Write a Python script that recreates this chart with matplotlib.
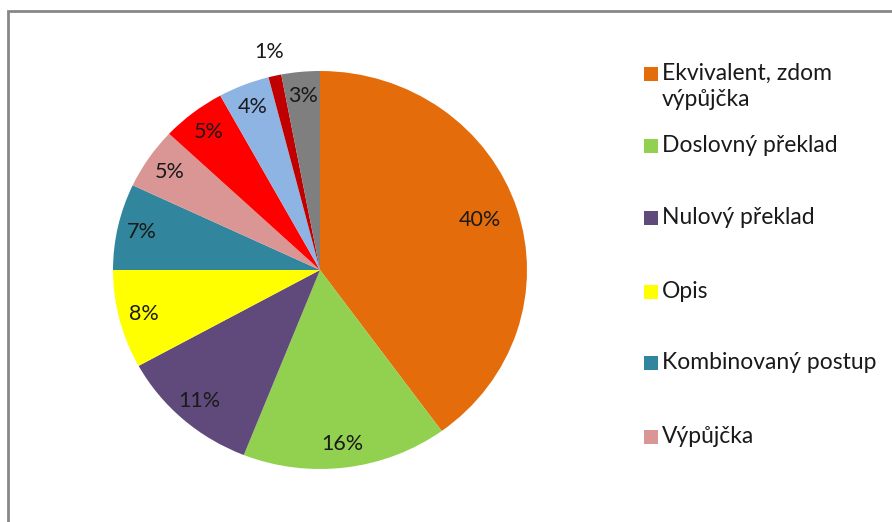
import numpy as np
import matplotlib
matplotlib.use("Agg")
import matplotlib.pyplot as plt
from matplotlib.patches import Rectangle

plt.rcParams['font.family'] = ['Lato', 'DejaVu Sans']

# shares in percent, clockwise from 12 o'clock
categories = ["Ekvivalent, zdom\nvýpůjčka", "Doslovný překlad", "Nulový překlad", "Opis",
              "Kombinovaný postup", "Výpůjčka", "Red", "LightBlue", "DarkRed", "Grey"]
values = [40, 16, 11, 8, 7, 5, 5, 4, 1, 3]
colors = ["#E46C0A", "#92D050", "#604A7B", "#FFFF00", "#31859C",
          "#D99694", "#FF0000", "#8EB4E3", "#C00000", "#7F7F7F"]
legend_count = 6  # only the first six entries fit in the legend box

W, H = 892, 522
fig = plt.figure(figsize=(W / 100, H / 100), dpi=100)

# outer chart frame (runs off the right and bottom edges)
fig.add_artist(Rectangle((7.5 / W, -0.1), 1.2, (H - 11) / H + 0.1, transform=fig.transFigure,
                         fill=False, edgecolor="#878787", linewidth=2))

# pie axes: centre (320, 270), radii 207 x 199 px
cx, cy, rx, ry = 320, 270, 207, 199
ax = fig.add_axes([(cx - rx) / W, (H - cy - ry) / H, 2 * rx / W, 2 * ry / H])
wedges, texts, autotexts = ax.pie(values, colors=colors, startangle=90, counterclock=False,
                                  autopct=lambda p: "%d%%" % round(p), pctdistance=0.86,
                                  wedgeprops=dict(linewidth=0),
                                  textprops=dict(fontsize=15.5, color="#1a1a1a"))
ax.set_aspect('auto')
ax.set_xlim(-1, 1)
ax.set_ylim(-1, 1)
ax.axis('off')

# small slices get their label outside, the big one a bit further in
for w, t, v in zip(wedges, autotexts, values):
    ang = np.deg2rad((w.theta1 + w.theta2) / 2)
    if v < 2:
        d = 1.12
    elif v > 30:
        d = 0.81
    else:
        d = 0.88
    t.set_position((d * np.cos(ang), d * np.sin(ang)))

# legend drawn by hand to copy the spreadsheet layout
ys = [74, 146, 218, 292, 363, 437]
for i in range(legend_count):
    y = ys[i]
    fig.add_artist(Rectangle((644 / W, 1 - (y + 7) / H), 14 / W, 14 / H,
                             transform=fig.transFigure, facecolor=colors[i], edgecolor="none"))
    fig.text(662 / W, 1 - (y - 11) / H, categories[i], fontsize=16.5, color="#1a1a1a",
             va="top", ha="left", linespacing=1.3)

fig.savefig("out.png", dpi=100)
